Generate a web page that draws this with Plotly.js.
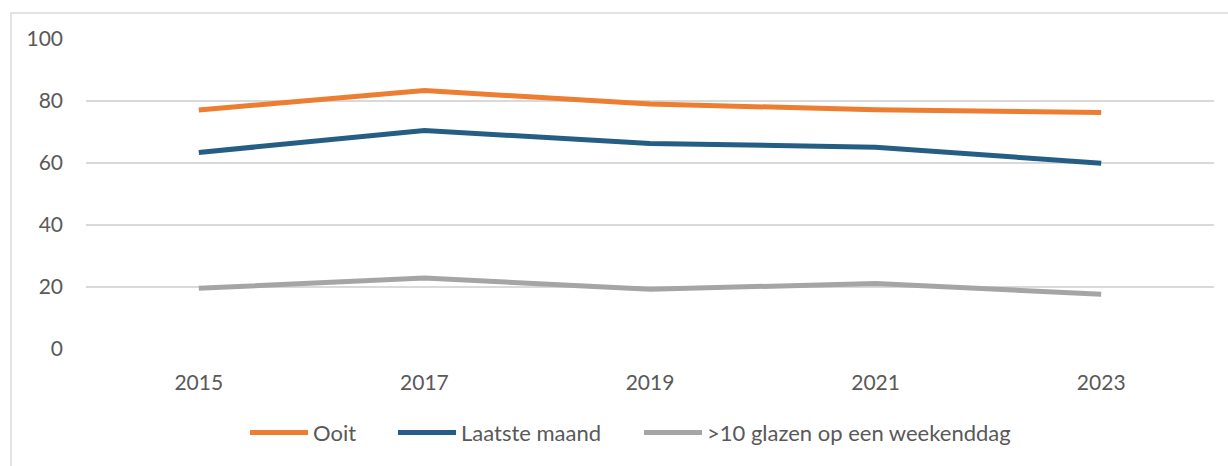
<!DOCTYPE html>
<html>
<head>
<meta charset="utf-8">
<script src="https://cdn.plot.ly/plotly-3.0.1.min.js"></script>
<style>html,body{margin:0;padding:0;background:#fff;}#chart{width:1228px;height:466px;}</style>
</head>
<body>
<div id="chart"></div>
<script>
const years = ["2015", "2017", "2019", "2021", "2023"];
const ooit = [77.1, 83.4, 79.0, 77.2, 76.3];
const laatsteMaand = [63.4, 70.5, 66.3, 65.1, 59.9];
const glazen = [19.6, 22.9, 19.3, 21.1, 17.7];
const seriesNames = ["Ooit", "Laatste maand", ">10 glazen op een weekenddag"];
const yTicks = [0, 20, 40, 60, 80, 100];

const colors = ["#ED7D31", "#255E85", "#A5A5A5"];
const legendIds = ["legend", "legend2", "legend3"];
const series = [ooit, laatsteMaand, glazen];
const traces = series.map((vals, i) => ({
  type: "scatter",
  mode: "lines",
  x: years,
  y: vals,
  name: seriesNames[i],
  legend: legendIds[i],
  line: {color: colors[i], width: 5, shape: "linear"},
  hoverinfo: "x+y+name"
}));

const font = {family: "Lato, 'Open Sans', sans-serif", size: 21, color: "#595959"};
const legFont = {family: font.family, size: 22, color: "#595959"};
const plotL = 86, plotW = 1128;
const legStarts = [245, 393, 639];
const layout = {
  width: 1228, height: 466,
  margin: {l: 86, r: 14, t: 39, b: 117},
  paper_bgcolor: "#fff", plot_bgcolor: "#fff",
  font: font,
  showlegend: true,
  xaxis: {type: "category", range: [-0.5, 4.5], showgrid: false, zeroline: false,
          showline: false, ticks: "", tickfont: font, ticklabelstandoff: 19, fixedrange: true},
  yaxis: {range: [0, 100], tickvals: yTicks, ticktext: yTicks.map(String), showgrid: true,
          gridcolor: "#D9D9D9", gridwidth: 1.5, zeroline: false, showline: false, ticks: "",
          ticklabelstandoff: 22, tickfont: font, fixedrange: true},
  shapes: [{type: "rect", xref: "paper", yref: "paper", x0: -0.0665, x1: 1.05, y0: -0.5, y1: 1.0839,
            line: {color: "#D9D9D9", width: 1.5}, fillcolor: "rgba(0,0,0,0)", layer: "below"}]
};
legendIds.forEach((id, i) => {
  layout[id] = {orientation: "h", x: (legStarts[i] - plotL) / plotW, xanchor: "left",
                y: -0.27, yanchor: "middle", font: legFont, bgcolor: "rgba(0,0,0,0)", itemwidth: 58};
});
Plotly.newPlot("chart", traces, layout, {displayModeBar: false, staticPlot: true});
</script>
</body>
</html>
